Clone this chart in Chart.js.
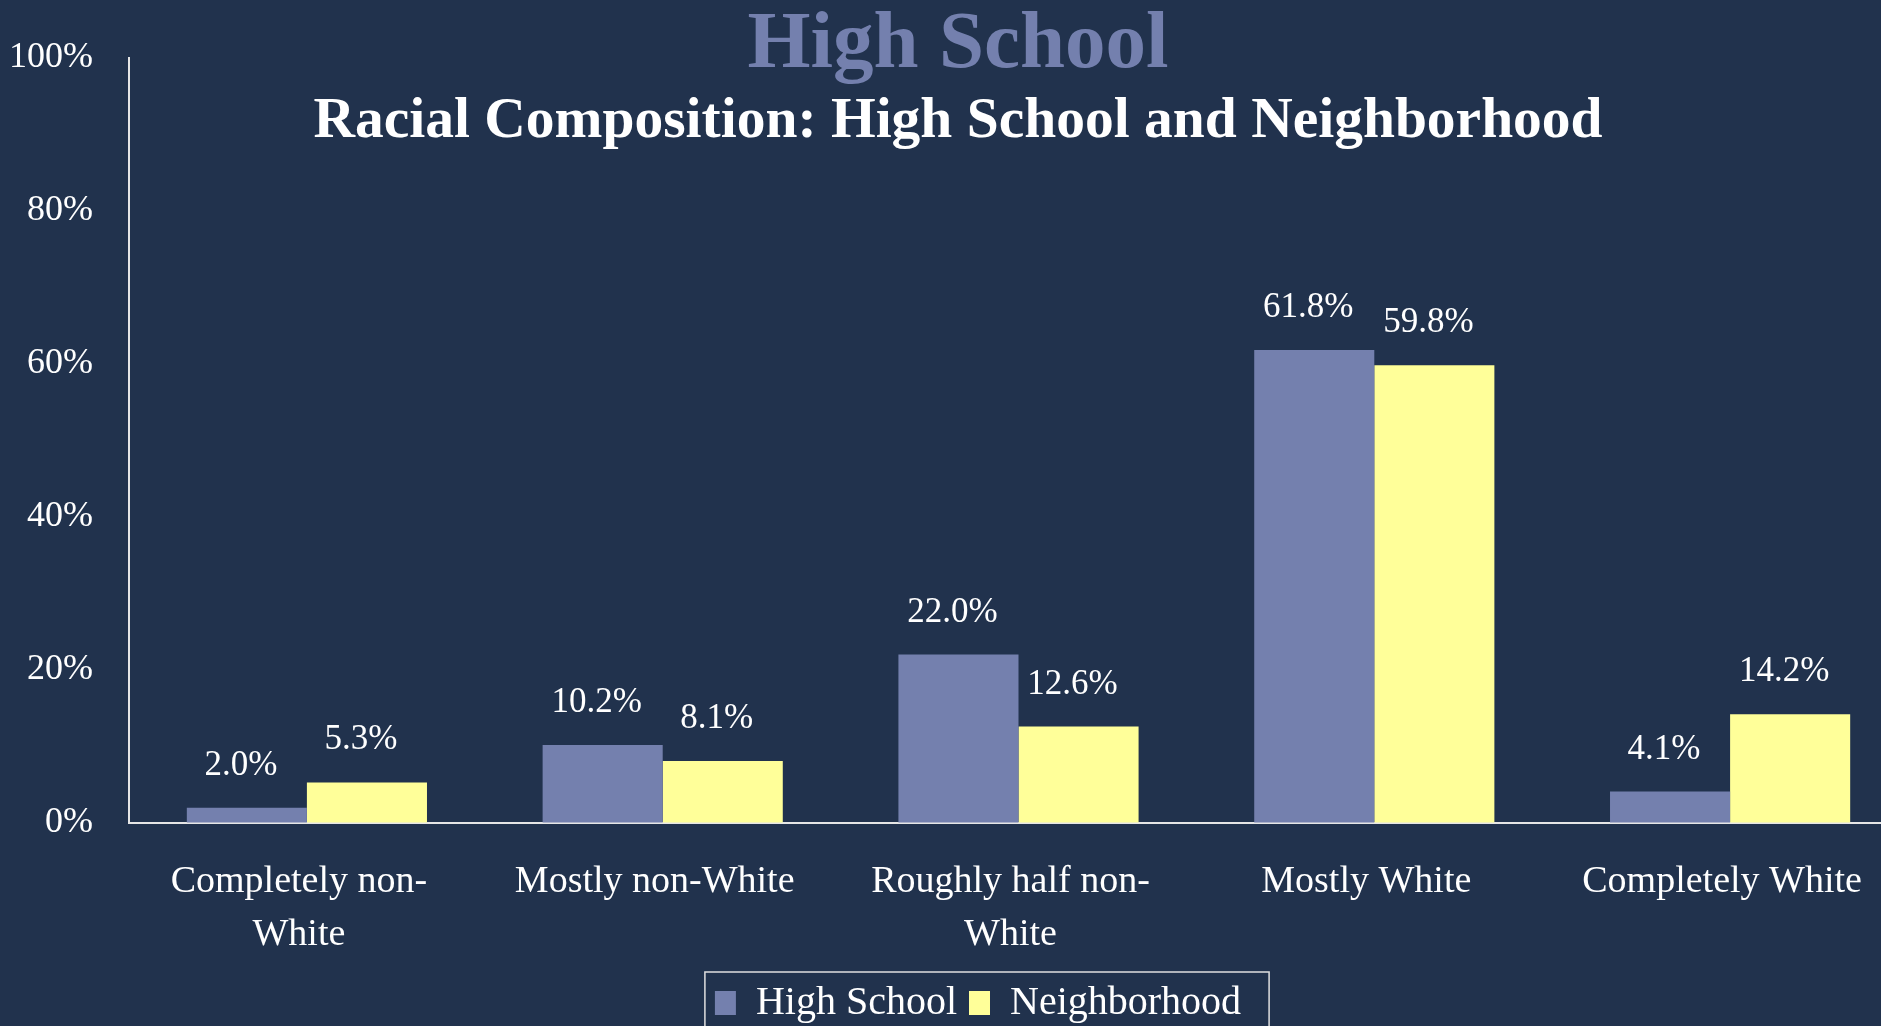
<!DOCTYPE html>
<html>
<head>
<meta charset="utf-8">
<script src="https://cdn.jsdelivr.net/npm/chart.js@4.4.1/dist/chart.umd.min.js"></script>
<style>
html, body { margin: 0; padding: 0; overflow: hidden; background: #21324d; }
canvas { display: block; }
</style>
</head>
<body>
<canvas id="raceChart" width="1920" height="1040"></canvas>
<script>
const categories = [['Completely non-', 'White'], 'Mostly non-White', ['Roughly half non-', 'White'], 'Mostly White', 'Completely White'];
const highSchool = [2.0, 10.2, 22.0, 61.8, 4.1];
const neighborhood = [5.3, 8.1, 12.6, 59.8, 14.2];
const seriesNames = ['High School', 'Neighborhood'];
const yTicks = [0, 20, 40, 60, 80, 100];
const chartTitle = 'High School';
const chartSubtitle = 'Racial Composition: High School and Neighborhood';

const serif = '"Liberation Serif", "Times New Roman", serif';

// value labels above each bar
const barLabels = {
    id: 'barLabels',
    afterDatasetsDraw(chart) {
        const ctx = chart.ctx;
        ctx.save();
        ctx.font = '35px ' + serif;
        ctx.fillStyle = '#ffffff';
        ctx.textAlign = 'center';
        ctx.textBaseline = 'alphabetic';
        chart.data.datasets.forEach((ds, i) => {
            chart.getDatasetMeta(i).data.forEach((bar, j) => {
                ctx.fillText(ds.data[j].toFixed(1) + '%', bar.x - 6, bar.y - 33);
            });
        });
        ctx.restore();
    }
};

// two title lines, drawn over the top of the plot
const titles = {
    id: 'titles',
    afterDraw(chart) {
        const ctx = chart.ctx;
        ctx.save();
        ctx.textAlign = 'center';
        ctx.textBaseline = 'alphabetic';
        ctx.font = 'bold 81px ' + serif;
        ctx.fillStyle = '#7480ae';
        ctx.fillText(chartTitle, 958, 67);
        ctx.font = 'bold 57.5px ' + serif;
        ctx.fillStyle = '#ffffff';
        ctx.fillText(chartSubtitle, 958, 137);
        ctx.restore();
    }
};

// shift the legend a bit and put a frame round it
const legendFrame = {
    id: 'legendFrame',
    afterLayout(chart) {
        chart.legend.left += 24;
        chart.legend.right += 24;
    },
    afterDraw(chart) {
        const lg = chart.legend;
        const pad = lg.options.labels.padding;
        const x0 = (lg.left + pad + lg.right - lg.lineWidths[0]) / 2;
        const x1 = x0 + lg.lineWidths[0] - pad;
        const ctx = chart.ctx;
        ctx.save();
        ctx.strokeStyle = '#e0e0e0';
        ctx.lineWidth = 1.5;
        ctx.strokeRect(x0 - 10, lg.top + 1, x1 - x0 + 38, 90);
        ctx.restore();
    }
};

const ctx = document.getElementById('raceChart').getContext('2d');
new Chart(ctx, {
    type: 'bar',
    data: {
        labels: categories,
        datasets: [{
            label: seriesNames[0],
            data: highSchool,
            backgroundColor: '#7480ae',
            borderWidth: 0
        }, {
            label: seriesNames[1],
            data: neighborhood,
            backgroundColor: '#ffff99',
            borderWidth: 0
        }]
    },
    options: {
        responsive: false,
        animation: false,
        categoryPercentage: 0.675,
        barPercentage: 1,
        layout: { padding: { top: 56, right: 12, bottom: 7, left: 0 } },
        plugins: {
            title: { display: false },
            tooltip: { enabled: false },
            legend: {
                position: 'bottom',
                labels: {
                    color: '#ffffff',
                    font: { family: serif, size: 40 },
                    boxWidth: 21,
                    boxHeight: 24,
                    padding: 12
                }
            }
        },
        scales: {
            x: {
                grid: { drawOnChartArea: false, drawTicks: false },
                border: { color: '#e6e6e6', width: 2 },
                ticks: {
                    color: '#ffffff',
                    font: { family: serif, size: 38, lineHeight: 1.38 },
                    padding: 33,
                    labelOffset: -8,
                    maxRotation: 0,
                    autoSkip: false
                },
                afterFit: s => { s.height = 148; }
            },
            y: {
                min: 0,
                max: 100,
                grid: { drawOnChartArea: false, drawTicks: false },
                border: { color: '#e6e6e6', width: 2 },
                afterBuildTicks: axis => { axis.ticks = yTicks.map(v => ({ value: v })); },
                ticks: {
                    color: '#ffffff',
                    font: { family: serif, size: 36 },
                    padding: 36,
                    callback: v => v + '%'
                },
                afterFit: s => { s.width = 129; }
            }
        }
    },
    plugins: [barLabels, titles, legendFrame]
});
</script>
</body>
</html>
